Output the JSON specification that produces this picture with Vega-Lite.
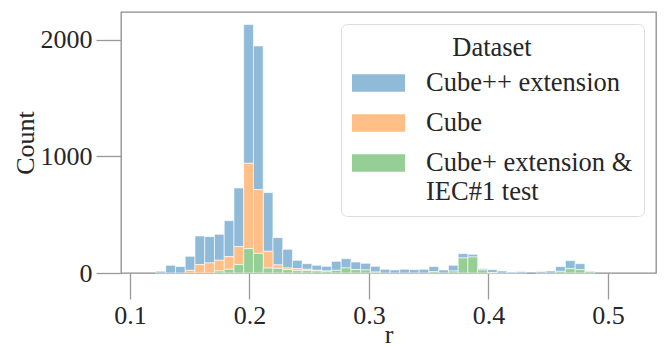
{
  "$schema": "https://vega.github.io/schema/vega-lite/v6.json",
  "width": 535,
  "height": 261,
  "autosize": {"type": "none"},
  "padding": {"left": 121, "top": 12, "right": 10, "bottom": 76},
  "background": "white",
  "config": {
    "view": {"stroke": "#8c8c8c", "strokeWidth": 1.3},
    "font": "Liberation Serif"
  },
  "data": {
    "values": [
      {"s":0.12176,"e":0.12992,"d":"Cube++ extension","k":2,"n":15},
      {"s":0.12992,"e":0.13808,"d":"Cube++ extension","k":2,"n":66},
      {"s":0.13808,"e":0.14623,"d":"Cube++ extension","k":2,"n":55},
      {"s":0.14623,"e":0.15439,"d":"Cube++ extension","k":2,"n":120},
      {"s":0.15439,"e":0.16255,"d":"Cube++ extension","k":2,"n":245},
      {"s":0.16255,"e":0.17071,"d":"Cube++ extension","k":2,"n":226},
      {"s":0.17071,"e":0.17887,"d":"Cube++ extension","k":2,"n":223},
      {"s":0.17887,"e":0.18702,"d":"Cube++ extension","k":2,"n":309},
      {"s":0.18702,"e":0.19518,"d":"Cube++ extension","k":2,"n":503},
      {"s":0.19518,"e":0.20334,"d":"Cube++ extension","k":2,"n":1189},
      {"s":0.20334,"e":0.2115,"d":"Cube++ extension","k":2,"n":1231},
      {"s":0.2115,"e":0.21966,"d":"Cube++ extension","k":2,"n":503},
      {"s":0.21966,"e":0.22781,"d":"Cube++ extension","k":2,"n":234},
      {"s":0.22781,"e":0.23597,"d":"Cube++ extension","k":2,"n":160},
      {"s":0.23597,"e":0.24413,"d":"Cube++ extension","k":2,"n":72},
      {"s":0.24413,"e":0.25229,"d":"Cube++ extension","k":2,"n":48},
      {"s":0.25229,"e":0.26045,"d":"Cube++ extension","k":2,"n":43},
      {"s":0.26045,"e":0.2686,"d":"Cube++ extension","k":2,"n":40},
      {"s":0.2686,"e":0.27676,"d":"Cube++ extension","k":2,"n":77},
      {"s":0.27676,"e":0.28492,"d":"Cube++ extension","k":2,"n":80},
      {"s":0.28492,"e":0.29308,"d":"Cube++ extension","k":2,"n":65},
      {"s":0.29308,"e":0.30124,"d":"Cube++ extension","k":2,"n":57},
      {"s":0.30124,"e":0.30939,"d":"Cube++ extension","k":2,"n":49},
      {"s":0.30939,"e":0.31755,"d":"Cube++ extension","k":2,"n":32},
      {"s":0.31755,"e":0.32571,"d":"Cube++ extension","k":2,"n":26},
      {"s":0.32571,"e":0.33387,"d":"Cube++ extension","k":2,"n":32},
      {"s":0.33387,"e":0.34203,"d":"Cube++ extension","k":2,"n":29},
      {"s":0.34203,"e":0.35018,"d":"Cube++ extension","k":2,"n":32},
      {"s":0.35018,"e":0.35834,"d":"Cube++ extension","k":2,"n":43},
      {"s":0.35834,"e":0.3665,"d":"Cube++ extension","k":2,"n":26},
      {"s":0.3665,"e":0.37466,"d":"Cube++ extension","k":2,"n":49},
      {"s":0.37466,"e":0.38282,"d":"Cube++ extension","k":2,"n":37},
      {"s":0.38282,"e":0.39097,"d":"Cube++ extension","k":2,"n":23},
      {"s":0.39097,"e":0.39913,"d":"Cube++ extension","k":2,"n":11},
      {"s":0.39913,"e":0.40729,"d":"Cube++ extension","k":2,"n":26},
      {"s":0.40729,"e":0.41545,"d":"Cube++ extension","k":2,"n":17},
      {"s":0.41545,"e":0.42361,"d":"Cube++ extension","k":2,"n":9},
      {"s":0.42361,"e":0.43176,"d":"Cube++ extension","k":2,"n":12},
      {"s":0.43992,"e":0.44808,"d":"Cube++ extension","k":2,"n":12},
      {"s":0.44808,"e":0.45624,"d":"Cube++ extension","k":2,"n":17},
      {"s":0.45624,"e":0.4644,"d":"Cube++ extension","k":2,"n":41},
      {"s":0.4644,"e":0.47255,"d":"Cube++ extension","k":2,"n":69},
      {"s":0.47255,"e":0.48071,"d":"Cube++ extension","k":2,"n":51},

      {"s":0.14623,"e":0.15439,"d":"Cube","k":1,"n":23},
      {"s":0.15439,"e":0.16255,"d":"Cube","k":1,"n":72},
      {"s":0.16255,"e":0.17071,"d":"Cube","k":1,"n":86},
      {"s":0.17071,"e":0.17887,"d":"Cube","k":1,"n":92},
      {"s":0.17887,"e":0.18702,"d":"Cube","k":1,"n":108},
      {"s":0.18702,"e":0.19518,"d":"Cube","k":1,"n":154},
      {"s":0.19518,"e":0.20334,"d":"Cube","k":1,"n":731},
      {"s":0.20334,"e":0.2115,"d":"Cube","k":1,"n":547},
      {"s":0.2115,"e":0.21966,"d":"Cube","k":1,"n":144},
      {"s":0.21966,"e":0.22781,"d":"Cube","k":1,"n":29},
      {"s":0.22781,"e":0.23597,"d":"Cube","k":1,"n":14},
      {"s":0.23597,"e":0.24413,"d":"Cube","k":1,"n":17},
      {"s":0.24413,"e":0.25229,"d":"Cube","k":1,"n":12},
      {"s":0.25229,"e":0.26045,"d":"Cube","k":1,"n":6},
      {"s":0.26045,"e":0.2686,"d":"Cube","k":1,"n":3},

      {"s":0.17071,"e":0.17887,"d":"Cube+ extension & IEC#1 test","k":0,"n":17},
      {"s":0.17887,"e":0.18702,"d":"Cube+ extension & IEC#1 test","k":0,"n":32},
      {"s":0.18702,"e":0.19518,"d":"Cube+ extension & IEC#1 test","k":0,"n":72},
      {"s":0.19518,"e":0.20334,"d":"Cube+ extension & IEC#1 test","k":0,"n":209},
      {"s":0.20334,"e":0.2115,"d":"Cube+ extension & IEC#1 test","k":0,"n":168},
      {"s":0.2115,"e":0.21966,"d":"Cube+ extension & IEC#1 test","k":0,"n":42},
      {"s":0.21966,"e":0.22781,"d":"Cube+ extension & IEC#1 test","k":0,"n":40},
      {"s":0.22781,"e":0.23597,"d":"Cube+ extension & IEC#1 test","k":0,"n":29},
      {"s":0.23597,"e":0.24413,"d":"Cube+ extension & IEC#1 test","k":0,"n":20},
      {"s":0.24413,"e":0.25229,"d":"Cube+ extension & IEC#1 test","k":0,"n":20},
      {"s":0.25229,"e":0.26045,"d":"Cube+ extension & IEC#1 test","k":0,"n":17},
      {"s":0.26045,"e":0.2686,"d":"Cube+ extension & IEC#1 test","k":0,"n":14},
      {"s":0.2686,"e":0.27676,"d":"Cube+ extension & IEC#1 test","k":0,"n":23},
      {"s":0.27676,"e":0.28492,"d":"Cube+ extension & IEC#1 test","k":0,"n":43},
      {"s":0.28492,"e":0.29308,"d":"Cube+ extension & IEC#1 test","k":0,"n":29},
      {"s":0.29308,"e":0.30124,"d":"Cube+ extension & IEC#1 test","k":0,"n":26},
      {"s":0.30124,"e":0.30939,"d":"Cube+ extension & IEC#1 test","k":0,"n":8},
      {"s":0.35018,"e":0.35834,"d":"Cube+ extension & IEC#1 test","k":0,"n":12},
      {"s":0.3665,"e":0.37466,"d":"Cube+ extension & IEC#1 test","k":0,"n":17},
      {"s":0.37466,"e":0.38282,"d":"Cube+ extension & IEC#1 test","k":0,"n":129},
      {"s":0.38282,"e":0.39097,"d":"Cube+ extension & IEC#1 test","k":0,"n":137},
      {"s":0.39097,"e":0.39913,"d":"Cube+ extension & IEC#1 test","k":0,"n":26},
      {"s":0.39913,"e":0.40729,"d":"Cube+ extension & IEC#1 test","k":0,"n":3},
      {"s":0.45624,"e":0.4644,"d":"Cube+ extension & IEC#1 test","k":0,"n":14},
      {"s":0.4644,"e":0.47255,"d":"Cube+ extension & IEC#1 test","k":0,"n":37},
      {"s":0.47255,"e":0.48071,"d":"Cube+ extension & IEC#1 test","k":0,"n":29},
      {"s":0.48071,"e":0.48887,"d":"Cube+ extension & IEC#1 test","k":0,"n":14}
    ]
  },
  "transform": [
    {"stack": "n", "groupby": ["s"], "sort": [{"field": "k", "order": "ascending"}], "as": ["y0", "y1"]}
  ],
  "mark": {"type": "bar", "stroke": "white", "strokeWidth": 1, "strokeOpacity": 0.6},
  "encoding": {
    "x": {
      "field": "s", "type": "quantitative",
      "scale": {"domain": [0.0925, 0.5402], "nice": false, "zero": false},
      "axis": {
        "title": "r", "values": [0.1, 0.2, 0.3, 0.4, 0.5], "format": ".1f",
        "domain": false, "grid": false,
        "tickSize": 26, "tickColor": "#999999", "tickWidth": 1.3,
        "labelFontSize": 26, "labelColor": "#262626", "labelPadding": 3,
        "labelFont": "Liberation Serif",
        "titleFontSize": 26, "titleFont": "Liberation Serif", "titleFontWeight": "normal",
        "titleColor": "#262626", "titlePadding": -7
      }
    },
    "x2": {"field": "e"},
    "y": {
      "field": "y1", "type": "quantitative",
      "scale": {"domain": [0, 2237], "nice": false},
      "axis": {
        "title": "Count", "values": [0, 1000, 2000], "format": "d",
        "domain": false, "grid": false,
        "tickSize": 25, "tickColor": "#999999", "tickWidth": 1.3,
        "labelFontSize": 26, "labelColor": "#262626", "labelPadding": 4,
        "labelFont": "Liberation Serif",
        "titleFontSize": 26, "titleFont": "Liberation Serif", "titleFontWeight": "normal",
        "titleColor": "#262626", "titlePadding": 2
      }
    },
    "y2": {"field": "y0"},
    "color": {
      "field": "d", "type": "nominal",
      "scale": {
        "domain": ["Cube++ extension", "Cube", "Cube+ extension & IEC#1 test"],
        "range": ["#8fbbd9", "#ffbf86", "#95cf95"]
      },
      "legend": {
        "title": "Dataset",
        "orient": "top-right", "offset": 12,
        "strokeColor": "#dddddd", "fillColor": "white", "cornerRadius": 6, "padding": 11,
        "titleFontSize": 26.5, "titleFont": "Liberation Serif", "titleFontWeight": "normal",
        "titleColor": "#262626", "titleAnchor": "middle", "titleAlign": "center", "titlePadding": -5,
        "symbolType": "M-1,-0.33H1V0.33H-1Z", "symbolSize": 2809, "symbolStrokeWidth": 0, "symbolOpacity": 1,
        "labelFontSize": 26.5, "labelFont": "Liberation Serif", "labelColor": "#262626",
        "labelOffset": 21, "labelLimit": 500, "labelLineHeight": 27, "labelBaseline": "middle",
        "rowPadding": -2,
        "labelExpr": "datum.label == 'Cube+ extension & IEC#1 test' ? ['Cube+ extension &', '\u00a0IEC#1 test'] : datum.label"
      }
    }
  }
}
